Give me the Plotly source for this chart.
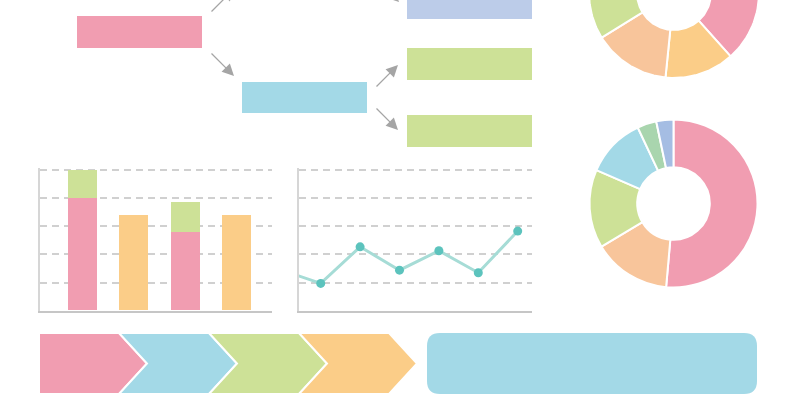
import numpy as np
import plotly.graph_objects as go

W, H = 800, 410

# ---------------- data ----------------
# stacked bar chart (values in grid units)
bar_cats = [0, 1, 2, 3]
bar_pink = [4.0, None, 2.8, None]
bar_green = [1.0, None, 1.04, None]
bar_orange = [None, 3.4, None, 3.4]

# line chart (first point lies left of the visible axis)
line_x = [0, 1, 2, 3, 4, 5, 6]
line_y = [1.45, 0.97, 2.27, 1.44, 2.13, 1.35, 2.83]

# donuts (clockwise from 12 o'clock)
donut_top_labels = ["A", "B", "C", "D", "E", "F"]
donut_top_values = [38.4, 13.2, 14.6, 17.0, 12.5, 4.3]
donut_bot_labels = ["A", "B", "C", "D", "E", "F"]
donut_bot_values = [51.4, 15.0, 15.1, 11.5, 3.7, 3.3]

# flow chart boxes and process steps
flow_boxes = ["root", "child", "leaf1", "leaf2", "leaf3"]
process_steps = ["step1", "step2", "step3", "step4"]

# ---------------- styles ----------------
PINK = "#f19db1"
BLUE = "#a3d9e7"
GREEN = "#cde197"
ORANGE = "#fbcd88"
PEACH = "#f8c59b"
LAV = "#bccce9"
MINT = "#a9d5ae"
LAV2 = "#a5bde3"
GRID = "#d0d0d0"
AXIS = "#c6c6c6"
ARROW = "#a5a5a5"

top_colors = [PINK, ORANGE, PEACH, GREEN, BLUE, LAV2]
bot_colors = [PINK, PEACH, GREEN, BLUE, MINT, LAV2]

fig = go.Figure()

def px_x(v):
    return v / W

def px_y(v):
    return 1 - v / H

# ---------- top donut (centre lies above the page) drawn on canvas axes ----------
cx_t, cy_t, R_out, R_in = 674, -7, 85, 37
cum = np.concatenate([[0], np.cumsum(donut_top_values)]) / np.sum(donut_top_values) * 360
for i, lab in enumerate(donut_top_labels):
    a = np.radians(np.linspace(cum[i], cum[i + 1], 60))
    xo = cx_t + R_out * np.sin(a)
    yo = cy_t - R_out * np.cos(a)
    xi = cx_t + R_in * np.sin(a[::-1])
    yi = cy_t - R_in * np.cos(a[::-1])
    fig.add_trace(go.Scatter(
        x=np.concatenate([xo, xi, xo[:1]]), y=np.concatenate([yo, yi, yo[:1]]),
        mode="lines", fill="toself", fillcolor=top_colors[i],
        line=dict(color="white", width=2), hoverinfo="skip", name=lab,
        xaxis="x", yaxis="y"))

# ---------- bar chart ----------
for vals, col in [(bar_pink, PINK), (bar_green, GREEN), (bar_orange, ORANGE)]:
    fig.add_trace(go.Bar(x=bar_cats, y=vals, marker=dict(color=col, line=dict(width=0)),
                         width=0.563, xaxis="x2", yaxis="y2", hoverinfo="skip"))

# ---------- line chart ----------
fig.add_trace(go.Scatter(x=line_x, y=line_y, mode="lines+markers",
                         line=dict(color="#a6dcd6", width=3),
                         marker=dict(color="#5cc3bd", size=9),
                         xaxis="x3", yaxis="y3", hoverinfo="skip"))

# ---------- bottom donut ----------
cx_b, cy_b, Rb_out, Rb_in = 673.5, 203.5, 84, 36.3
fig.add_trace(go.Pie(labels=donut_bot_labels, values=donut_bot_values, hole=Rb_in / Rb_out,
                     sort=False, direction="clockwise", rotation=0,
                     marker=dict(colors=bot_colors, line=dict(color="white", width=2)),
                     textinfo="none", hoverinfo="skip",
                     domain=dict(x=[px_x(cx_b - Rb_out), px_x(cx_b + Rb_out)],
                                 y=[px_y(cy_b + Rb_out), px_y(cy_b - Rb_out)])))

shapes = []
# ---------- flow chart boxes ----------
box_geo = {
    "root": (77, 16, 202, 48, PINK),
    "child": (242, 82, 367, 113, BLUE),
    "leaf1": (407, -13, 532, 19, LAV),
    "leaf2": (407, 48, 532, 80, GREEN),
    "leaf3": (407, 115, 532, 147, GREEN),
}
for b in flow_boxes:
    x0, y0, x1, y1, c = box_geo[b]
    shapes.append(dict(type="rect", xref="x", yref="y", x0=x0, y0=y0, x1=x1, y1=y1,
                       fillcolor=c, line=dict(width=0), layer="below"))

# ---------- process chevrons ----------
cx0, step, depth, cy0, cy1 = 39, 90, 28, 333, 394
cmid = (cy0 + cy1) / 2
chev_colors = [PINK, BLUE, GREEN, ORANGE]
for i, s in enumerate(process_steps):
    right_top = cx0 + 80 + step * i
    tip = right_top + depth
    if i == 0:
        left = f"M{cx0},{cy0} "
        left_close = f"L{cx0},{cy1} Z"
    else:
        lt = right_top - step
        left = f"M{lt},{cy0} "
        left_close = f"L{lt},{cy1} L{lt + depth},{cmid} Z"
    path = left + f"L{right_top},{cy0} L{tip},{cmid} L{right_top},{cy1} " + left_close
    shapes.append(dict(type="path", xref="x", yref="y", path=path, fillcolor=chev_colors[i],
                       line=dict(color="white", width=2)))

# ---------- rounded banner ----------
rx0, ry0, rx1, ry1, rr = 427, 333, 757, 394, 13
rpath = (f"M{rx0 + rr},{ry0} L{rx1 - rr},{ry0} Q{rx1},{ry0} {rx1},{ry0 + rr} "
         f"L{rx1},{ry1 - rr} Q{rx1},{ry1} {rx1 - rr},{ry1} L{rx0 + rr},{ry1} "
         f"Q{rx0},{ry1} {rx0},{ry1 - rr} L{rx0},{ry0 + rr} Q{rx0},{ry0} {rx0 + rr},{ry0} Z")
shapes.append(dict(type="path", xref="x", yref="y", path=rpath, fillcolor=BLUE, line=dict(width=0)))

# ---------- arrows ----------
arrows = [((210, 13), (234, -11)), ((210, 52), (234, 76)),
          ((375, 88), (398, 65)), ((375, 107), (398, 130)), ((375, -22), (399, 2))]
annotations = []
for (tx, ty), (hx, hy) in arrows:
    annotations.append(dict(x=hx, y=hy, ax=tx, ay=ty, xref="x", yref="y", axref="x", ayref="y",
                            text="", showarrow=True, arrowhead=2, arrowsize=1.8, arrowwidth=1.3,
                            arrowcolor=ARROW, standoff=0, startstandoff=0))

# chart grid: 5 units spanning 310.7px -> 170px; range padded so the top line shows
unit_px = (310.7 - 170) / 5
y_top_val = 5.06
y_dom = [px_y(310.7), px_y(310.7 - unit_px * y_top_val)]

hidden = dict(visible=False, fixedrange=True)
chart_y = dict(range=[0, y_top_val], dtick=1, tick0=0, showgrid=True, gridcolor=GRID, gridwidth=1.5,
               griddash="7px,5px", showticklabels=False, ticks="", zeroline=False,
               showline=True, linecolor="#d6d6d6", linewidth=2, fixedrange=True)
chart_x = dict(showgrid=False, showticklabels=False, ticks="", zeroline=False,
               showline=True, linecolor=AXIS, linewidth=2, fixedrange=True)

fig.update_layout(
    width=W, height=H, margin=dict(l=0, r=0, t=0, b=0),
    paper_bgcolor="white", plot_bgcolor="rgba(0,0,0,0)", showlegend=False,
    barmode="stack", bargap=0,
    xaxis=dict(domain=[0, 1], range=[0, W], **hidden),
    yaxis=dict(domain=[0, 1], range=[H, 0], **hidden),
    xaxis2=dict(domain=[px_x(40), px_x(272)], range=[-0.825, 3.68], anchor="y2", **chart_x),
    yaxis2=dict(domain=y_dom, anchor="x2", **chart_y),
    xaxis3=dict(domain=[px_x(299), px_x(532)], range=[0.449, 6.363], anchor="y3", **chart_x),
    yaxis3=dict(domain=y_dom, anchor="x3", **chart_y),
    shapes=shapes, annotations=annotations,
)

fig.write_html("out.html", config={"displayModeBar": False},
               post_script="document.body.style.margin='0';")
